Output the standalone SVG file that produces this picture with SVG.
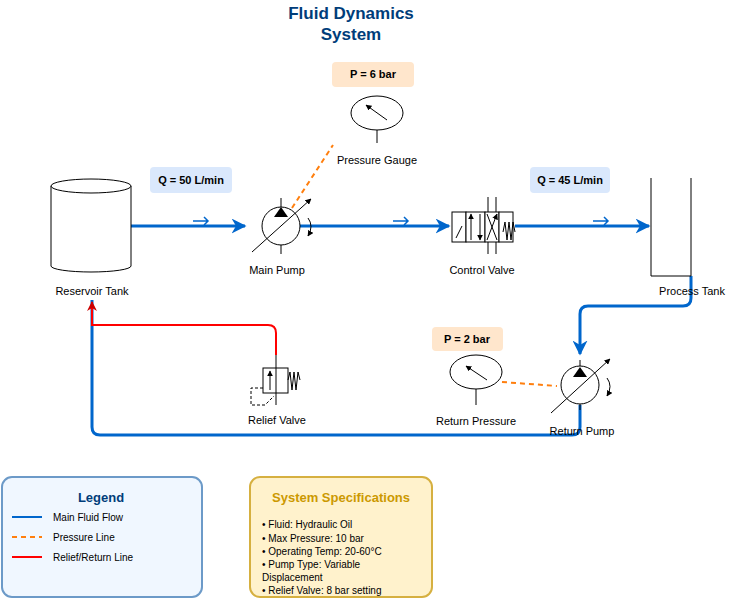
<svg xmlns="http://www.w3.org/2000/svg" width="732" height="598" viewBox="0 0 732 598">
<defs>
<marker id="ab" viewBox="0 0 10 10" refX="9" refY="5" markerWidth="5" markerHeight="5" orient="auto"><path d="M0,0 L10,5 L0,10 L3,5 Z" fill="#0066cc"/></marker>
<marker id="ar" viewBox="0 0 10 10" refX="9" refY="5" markerWidth="5" markerHeight="5" orient="auto"><path d="M0,0 L10,5 L0,10 L3,5 Z" fill="#cc0000"/></marker>
<marker id="ak" viewBox="0 0 10 10" refX="9" refY="5" markerWidth="6" markerHeight="6" orient="auto"><path d="M0,0 L10,5 L0,10 Z" fill="#000"/></marker>
</defs>
<style>
text{font-family:"Liberation Sans",Arial,sans-serif;font-size:11px;fill:#000}
.c{text-anchor:middle}
.b{font-weight:bold}
.sym{fill:#fff;stroke:#000;stroke-width:1}
.flow{fill:none;stroke:#0066cc;stroke-width:3}
.pl{fill:none;stroke:#ff7f0e;stroke-width:2;stroke-dasharray:5,4}
.rl{fill:none;stroke:#ff0000;stroke-width:2}
.q{fill:#dae8fc}
.p{fill:#ffe6cc}
.sm{fill:none;stroke:#0066cc;stroke-width:1.5}
</style>
<text x="351" y="19" class="c b" style="font-size:17px;fill:#003d7a">Fluid Dynamics</text>
<text x="351" y="40" class="c b" style="font-size:17px;fill:#003d7a">System</text>

<g id="connectors">
<path class="flow" d="M131,226 H245" marker-end="url(#ab)"/>
<path class="flow" d="M297,226 H449" marker-end="url(#ab)"/>
<path class="flow" d="M515,226 H649" marker-end="url(#ab)"/>
<path class="flow" d="M691,276 V298 Q691,306 683,306 H588 Q580,306 580,314 V354" marker-end="url(#ab)"/>
<path class="flow" d="M580,405 V427 Q580,435 572,435 H100 Q92,435 92,427 V300"/>
<path class="rl" d="M276,355 V333 Q276,325 268,325 H92 V302" marker-end="url(#ar)"/>
<path class="pl" d="M292,208 L333,145"/>
<path class="pl" d="M502,382 L557,386"/>
<path class="sm" d="M193,221 H208 M204,217 L208,221 L204,225"/>
<path class="sm" d="M393,221 H408 M404,217 L408,221 L404,225"/>
<path class="sm" d="M593,221 H608 M604,217 L608,221 L604,225"/>
</g>

<g id="reservoir">
<path d="M51,186 V266 A40,6 0 0 0 131,266 V186" class="sym"/>
<ellipse cx="91" cy="186" rx="40" ry="7" class="sym"/>
<text x="92" y="295" class="c">Reservoir Tank</text>
</g>

<g id="q1"><rect x="150" y="167" width="82" height="26" rx="4" class="q"/><text x="191" y="184" class="c b">Q = 50 L/min</text></g>
<g id="q2"><rect x="530" y="167" width="80" height="26" rx="4" class="q"/><text x="570" y="184" class="c b">Q = 45 L/min</text></g>
<g id="p1"><rect x="332" y="62" width="82" height="25" rx="4" class="p"/><text x="373" y="78" class="c b">P = 6 bar</text></g>
<g id="p2"><rect x="432" y="327" width="71" height="24" rx="4" class="p"/><text x="467" y="343" class="c b">P = 2 bar</text></g>

<g id="mainpump">
<line x1="281" y1="198" x2="281" y2="254" stroke="#000"/>
<circle cx="281" cy="226" r="19" class="sym"/>
<path d="M274,217 L281,207 L288,217 Z" fill="#000"/>
<line x1="252" y1="252" x2="311" y2="199" stroke="#000" marker-end="url(#ak)"/>
<path d="M308,218 Q314,226 308,236" fill="none" stroke="#000" marker-end="url(#ak)"/>
<text x="277" y="274" class="c">Main Pump</text>
</g>

<g id="gauge">
<line x1="377" y1="130" x2="377" y2="143" stroke="#000"/>
<ellipse cx="377" cy="113" rx="26" ry="17" class="sym"/>
<line x1="387" y1="120" x2="366" y2="105" stroke="#000" marker-end="url(#ak)"/>
<text x="377" y="164" class="c">Pressure Gauge</text>
</g>

<g id="controlvalve">
<line x1="488" y1="197" x2="488" y2="254" stroke="#000"/>
<line x1="496" y1="197" x2="496" y2="254" stroke="#000"/>
<rect x="452" y="212" width="14" height="30" class="sym"/>
<rect x="466" y="212" width="19" height="30" class="sym"/>
<rect x="485" y="212" width="14" height="30" class="sym"/>
<rect x="499" y="212" width="14" height="30" class="sym"/>
<line x1="456" y1="238" x2="462" y2="226" stroke="#000"/>
<line x1="471" y1="240" x2="471" y2="214" stroke="#000" marker-end="url(#ak)"/>
<line x1="480" y1="214" x2="480" y2="240" stroke="#000" marker-end="url(#ak)"/>
<line x1="487" y1="240" x2="497" y2="214" stroke="#000" marker-end="url(#ak)"/>
<line x1="497" y1="240" x2="487" y2="214" stroke="#000"/>
<path d="M503,232 L505,222 L507,240 L509,222 L511,240 L513,222 L515,232" fill="none" stroke="#000"/>
<text x="482" y="274" class="c">Control Valve</text>
</g>

<g id="processtank">
<path d="M651,178 V276 H691 V178" fill="#fff" stroke="#000"/>
<text x="692" y="295" class="c">Process Tank</text>
</g>

<g id="returnpump">
<line x1="580" y1="360" x2="580" y2="410" stroke="#000"/>
<circle cx="580" cy="385" r="19" class="sym"/>
<path d="M573,377 L580,367 L587,377 Z" fill="#000"/>
<line x1="551" y1="413" x2="610" y2="359" stroke="#000" marker-end="url(#ak)"/>
<path d="M607,378 Q613,386 607,396" fill="none" stroke="#000" marker-end="url(#ak)"/>
<text x="582" y="435" class="c">Return Pump</text>
</g>

<g id="returngauge">
<line x1="476" y1="389" x2="476" y2="405" stroke="#000"/>
<ellipse cx="476" cy="372" rx="26" ry="17" class="sym"/>
<line x1="487" y1="380" x2="466" y2="366" stroke="#000" marker-end="url(#ak)"/>
<text x="476" y="425" class="c">Return Pressure</text>
</g>

<g id="reliefvalve">
<line x1="276" y1="355" x2="276" y2="405" stroke="#808080" stroke-width="2"/>
<rect x="263" y="368" width="25" height="25" fill="none" stroke="#000"/>
<line x1="270" y1="390" x2="270" y2="371" stroke="#000" marker-end="url(#ak)"/>
<path d="M263,388 H251 V405 H265 L274,396" fill="none" stroke="#000" stroke-dasharray="3,2"/>
<path d="M288,380 L290,372 L292,390 L294,372 L296,390 L298,372 L300,380" fill="none" stroke="#000"/>
<text x="277" y="424" class="c">Relief Valve</text>
</g>

<g id="legend">
<rect x="2" y="477" width="200" height="120" rx="10" fill="#f0f7ff" stroke="#6c9ac8" stroke-width="2"/>
<text x="101" y="502" class="c b" style="font-size:13px;fill:#003d7a">Legend</text>
<line x1="12" y1="517" x2="42" y2="517" class="flow" style="stroke-width:2"/>
<text x="53" y="521" style="font-size:10px">Main Fluid Flow</text>
<line x1="12" y1="537" x2="42" y2="537" class="pl"/>
<text x="53" y="541" style="font-size:10px">Pressure Line</text>
<line x1="12" y1="557" x2="42" y2="557" class="rl"/>
<text x="53" y="561" style="font-size:10px">Relief/Return Line</text>
</g>

<g id="specs">
<rect x="250" y="477" width="182" height="120" rx="10" fill="#fff2cc" stroke="#d6b040" stroke-width="2"/>
<text x="341" y="502" class="c b" style="font-size:13px;fill:#cc9900">System Specifications</text>
<text x="262" y="528" style="font-size:10px">• Fluid: Hydraulic Oil</text>
<text x="262" y="542" style="font-size:10px">• Max Pressure: 10 bar</text>
<text x="262" y="555" style="font-size:10px">• Operating Temp: 20-60°C</text>
<text x="262" y="568" style="font-size:10px">• Pump Type: Variable</text>
<text x="262" y="581" style="font-size:10px">Displacement</text>
<text x="262" y="594" style="font-size:10px">• Relief Valve: 8 bar setting</text>
</g>
</svg>
